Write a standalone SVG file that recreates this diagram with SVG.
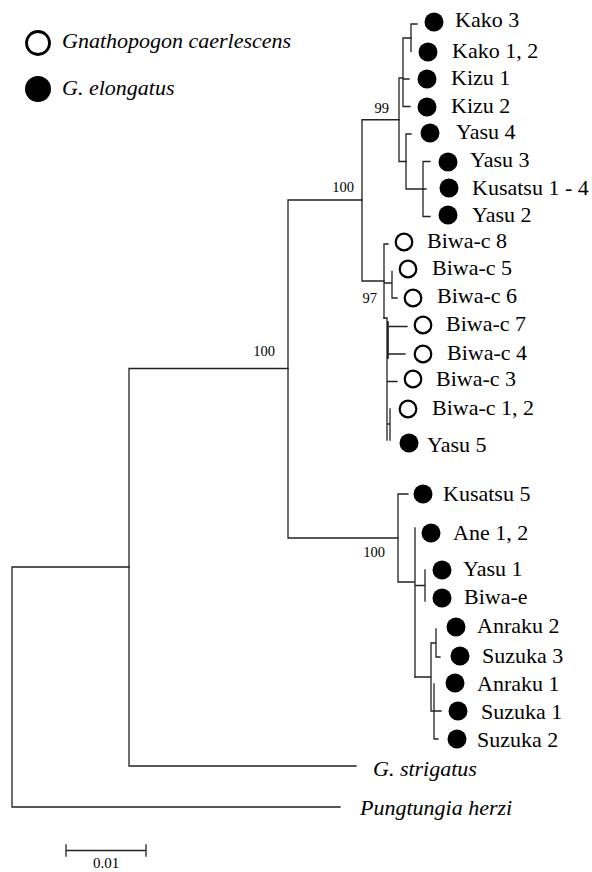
<svg xmlns="http://www.w3.org/2000/svg" width="592" height="872" viewBox="0 0 592 872">
<style>
.br{fill:none;stroke:#222;stroke-width:1.3;stroke-linecap:square}
.lb{font-size:22px;fill:#000}
.it{font-style:italic;fill:#000}
.bs{font-size:14.5px;fill:#000;text-anchor:end}
.f{fill:#000}
.o{fill:#fff;stroke:#000;stroke-width:2.2}
.lo{fill:#fff;stroke:#000;stroke-width:2.8}
</style>
<rect width="592" height="872" fill="#fff"/>
<g font-family="Liberation Serif, Times New Roman, serif">
<g id="legend">
<circle class="lo" cx="38" cy="43" r="11.5"/>
<text class="it" x="62" y="48" font-size="22">Gnathopogon caerlescens</text>
<circle class="f" cx="38" cy="89" r="13"/>
<text class="it" x="62" y="95" font-size="22">G. elongatus</text>
</g>
<g id="connectors">
<path class="br" d="M12 567V807M12 567H129M12 807H340"/>
<path class="br" d="M129 368.5V766M129 766H356M129 368.5H288"/>
<path class="br" d="M288 200V538M288 200H362M288 538H398"/>
<path class="br" d="M362 119.75V281M362 119.75H399M362 281H384"/>
<path class="br" d="M399 78V161.5M399 78H403M399 161.5H406"/>
<path class="br" d="M403 38V106.5M403 38H411M403 79H409M403 106.5H410"/>
<path class="br" d="M411 24V51.5M411 24H417"/>
<path class="br" d="M406 134V189M406 134H411M406 189H423"/>
<path class="br" d="M423 161.5V216.5M423 161.5H430M423 189H426M423 216.5H430"/>
<path class="br" d="M384 244V318M384 244H388M384 283H392M392 271.5V298M392 298H397"/>
<path class="br" d="M384 318H387M387 318V440M387 326.5H407M387 354H405M387 381.5H397M387 424H390M390 409V440M388.2 322V358"/>
<path class="br" d="M398 494V582M398 494H408M398 582H415M415 528V677M415 585.5H425M425 570V601"/>
<path class="br" d="M415 677H431M431 643V711M431 643H436M436 629V657M436 657H440M431 711H441M434 684V739M434 739H438"/>
</g>
<g id="bootstrap">
<text class="bs" x="389" y="113">99</text>
<text class="bs" x="354" y="192">100</text>
<text class="bs" x="377" y="303">97</text>
<text class="bs" x="275" y="356">100</text>
<text class="bs" x="385" y="557">100</text>
</g>
<g id="kako3"><circle class="f" cx="434" cy="22" r="9.5"/><text class="lb" x="455" y="27">Kako 3</text></g>
<g id="kako12"><circle class="f" cx="428" cy="52" r="9.5"/><text class="lb" x="452" y="58">Kako 1, 2</text></g>
<g id="kizu1"><circle class="f" cx="427" cy="79" r="9.5"/><text class="lb" x="451" y="85">Kizu 1</text></g>
<g id="kizu2"><circle class="f" cx="427" cy="107" r="9.5"/><text class="lb" x="451" y="113">Kizu 2</text></g>
<g id="yasu4"><circle class="f" cx="430" cy="133" r="9.5"/><text class="lb" x="456" y="139">Yasu 4</text></g>
<g id="yasu3"><circle class="f" cx="448" cy="162" r="9.5"/><text class="lb" x="470" y="167">Yasu 3</text></g>
<g id="kusatsu14"><circle class="f" cx="449" cy="188" r="9.5"/><text class="lb" x="472" y="195">Kusatsu 1 - 4</text></g>
<g id="yasu2"><circle class="f" cx="448" cy="215" r="9.5"/><text class="lb" x="472" y="222">Yasu 2</text></g>
<g id="biwac8"><circle class="o" cx="404" cy="242" r="8.3"/><text class="lb" x="427" y="248">Biwa-c 8</text></g>
<g id="biwac5"><circle class="o" cx="408" cy="269" r="8.3"/><text class="lb" x="432" y="275">Biwa-c 5</text></g>
<g id="biwac6"><circle class="o" cx="413" cy="298" r="8.3"/><text class="lb" x="437" y="303">Biwa-c 6</text></g>
<g id="biwac7"><circle class="o" cx="423" cy="325" r="8.3"/><text class="lb" x="446" y="331">Biwa-c 7</text></g>
<g id="biwac4"><circle class="o" cx="423" cy="354" r="8.3"/><text class="lb" x="447" y="360">Biwa-c 4</text></g>
<g id="biwac3"><circle class="o" cx="413" cy="379" r="8.3"/><text class="lb" x="436" y="386">Biwa-c 3</text></g>
<g id="biwac12"><circle class="o" cx="408" cy="409" r="8.3"/><text class="lb" x="432" y="415">Biwa-c 1, 2</text></g>
<g id="yasu5"><circle class="f" cx="409" cy="443" r="9.5"/><text class="lb" x="427" y="452">Yasu 5</text></g>
<g id="kusatsu5"><circle class="f" cx="423" cy="494" r="9.5"/><text class="lb" x="443" y="501">Kusatsu 5</text></g>
<g id="ane12"><circle class="f" cx="431" cy="533" r="9.5"/><text class="lb" x="453" y="540">Ane 1, 2</text></g>
<g id="yasu1"><circle class="f" cx="442" cy="570" r="9.5"/><text class="lb" x="463" y="576">Yasu 1</text></g>
<g id="biwae"><circle class="f" cx="442" cy="598" r="9.5"/><text class="lb" x="464" y="604">Biwa-e</text></g>
<g id="anraku2"><circle class="f" cx="456" cy="627" r="9.5"/><text class="lb" x="477" y="633">Anraku 2</text></g>
<g id="suzuka3"><circle class="f" cx="460" cy="656" r="9.5"/><text class="lb" x="482" y="663">Suzuka 3</text></g>
<g id="anraku1"><circle class="f" cx="455" cy="683" r="9.5"/><text class="lb" x="477" y="691">Anraku 1</text></g>
<g id="suzuka1"><circle class="f" cx="458" cy="711" r="9.5"/><text class="lb" x="481" y="719">Suzuka 1</text></g>
<g id="suzuka2"><circle class="f" cx="457" cy="739" r="9.5"/><text class="lb" x="477" y="747">Suzuka 2</text></g>
<g id="gstrigatus"><text class="it" x="373" y="776" font-size="22">G. strigatus</text></g>
<g id="pungtungia"><text class="it" x="360" y="815" font-size="22">Pungtungia herzi</text></g>
<g id="scalebar">
<path class="br" stroke-width="1.6" d="M66 850.5H146M66 845V856M146 845V856"/>
<text x="106" y="868" font-size="15" text-anchor="middle">0.01</text>
</g>
</g>
</svg>
